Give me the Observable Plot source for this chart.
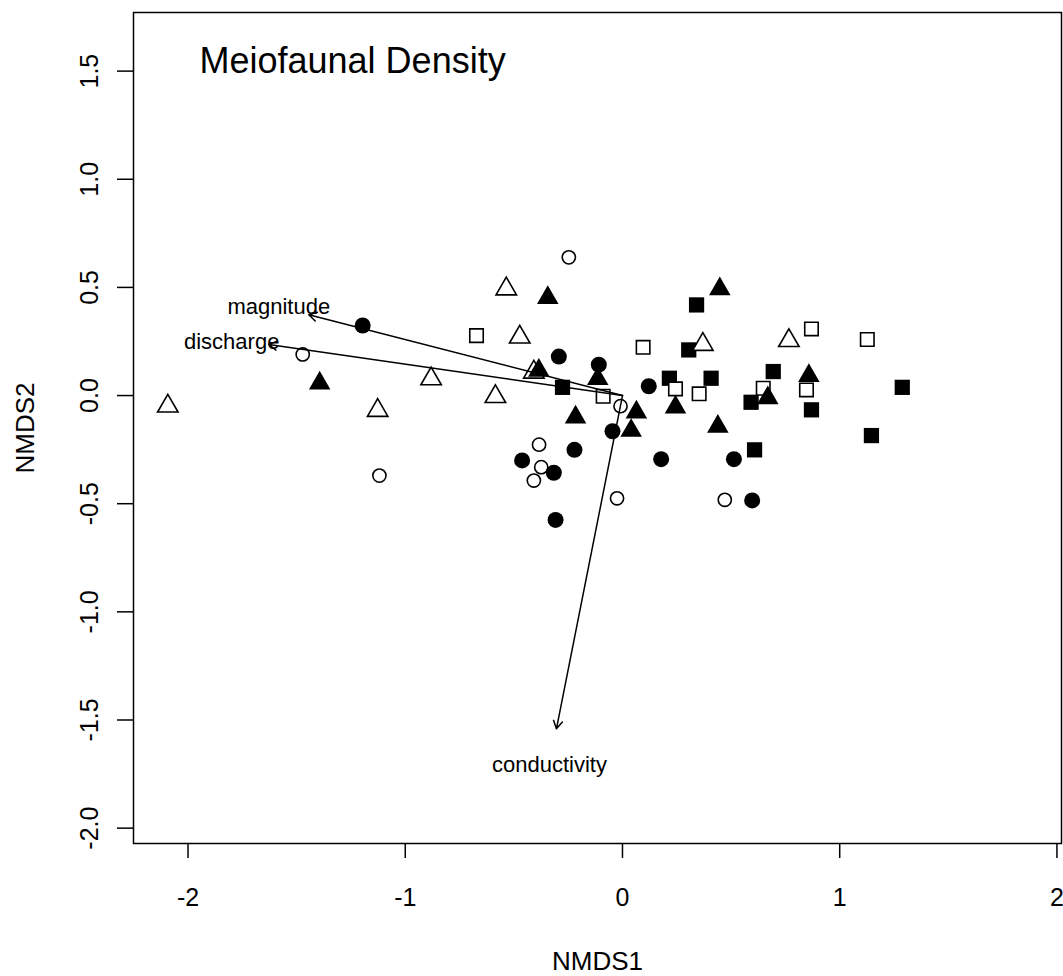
<!DOCTYPE html>
<html><head><meta charset="utf-8">
<script src="https://cdn.jsdelivr.net/npm/d3@7"></script>
<script src="https://cdn.jsdelivr.net/npm/@observablehq/plot@0.6"></script>
<style>body{margin:0;background:#fff} #chart svg{display:block}</style>
</head><body><div id="chart"></div>
<script>
// NMDS site scores by group (NMDS1, NMDS2)
const openTriangles = [[-2.093,-0.049],[-1.127,-0.069],[-0.881,0.077],[-0.585,-0.005],[-0.535,0.493],[-0.473,0.270],[-0.408,0.108],[0.370,0.236],[0.766,0.254]];
const filledTriangles = [[-1.394,0.057],[-0.344,0.452],[-0.385,0.116],[-0.114,0.077],[-0.216,-0.100],[0.064,-0.077],[0.040,-0.162],[0.244,-0.054],[0.448,0.493],[0.439,-0.143],[0.669,-0.011],[0.858,0.092]];
const openCircles = [[-1.472,0.190],[-1.119,-0.370],[-0.247,0.639],[-0.009,-0.049],[-0.384,-0.227],[-0.374,-0.331],[-0.408,-0.393],[-0.025,-0.475],[0.471,-0.482]];
const filledCircles = [[-1.196,0.324],[-0.293,0.180],[-0.109,0.143],[0.121,0.043],[-0.046,-0.165],[-0.221,-0.251],[-0.462,-0.300],[-0.316,-0.357],[-0.308,-0.575],[0.178,-0.294],[0.513,-0.294],[0.597,-0.485]];
const openSquares = [[-0.672,0.277],[-0.089,-0.003],[0.095,0.223],[0.244,0.031],[0.353,0.008],[0.648,0.034],[0.847,0.026],[0.870,0.308],[1.127,0.259]];
const filledSquares = [[-0.276,0.038],[0.341,0.419],[0.305,0.211],[0.216,0.080],[0.408,0.080],[0.694,0.111],[0.592,-0.031],[0.608,-0.251],[0.870,-0.066],[1.288,0.038],[1.146,-0.185]];

// environmental vectors
const vectorNames = ["magnitude","discharge","conductivity"];
const vectorX = [-1.444,-1.628,-0.304];
const vectorY = [0.374,0.236,-1.541];
const labelX = [-1.582,-1.799,-0.336];
const labelY = [0.408,0.250,-1.706];

const xTicks = [-2,-1,0,1,2];
const yTicks = [-2,-1.5,-1,-0.5,0,0.5,1,1.5];

const toPts = a => a.map(([x,y]) => ({x, y}));
const vectors = vectorNames.map((name,i) => ({name, x: vectorX[i], y: vectorY[i], lx: labelX[i], ly: labelY[i]}));
const font = "'Liberation Sans', Arial, Helvetica, sans-serif";

const plot = Plot.plot({
  width: 1063, height: 976,
  marginLeft: 133, marginRight: 2, marginTop: 12, marginBottom: 133,
  style: {fontFamily: font, background: "white", color: "black"},
  x: {domain: [-2.251, 2.021], label: null},
  y: {domain: [-2.071, 1.771], label: null},
  marks: [
    Plot.frame({stroke: "black", strokeWidth: 1.5}),
    Plot.axisX(xTicks, {anchor: "bottom", tickSize: 15, tickPadding: 30, fontSize: 25, strokeWidth: 1.5, tickFormat: d => String(d), label: null}),
    Plot.axisY(yTicks, {anchor: "left", tickSize: 16, tickPadding: 20, tickRotate: -90, textAnchor: "middle", lineAnchor: "bottom", fontSize: 25, strokeWidth: 1.5, tickFormat: d => d.toFixed(1), label: null}),
    Plot.dot(toPts(filledSquares), {x: "x", y: "y", symbol: "square", r: 8.6, fill: "black"}),
    Plot.dot(toPts(openSquares), {x: "x", y: "y", symbol: "square", r: 7.6, fill: "white", stroke: "black", strokeWidth: 1.6}),
    Plot.dot(toPts(openTriangles), {x: "x", y: "y", symbol: "triangle", r: 7.6, fill: "white", stroke: "black", strokeWidth: 1.6}),
    Plot.dot(toPts(filledTriangles), {x: "x", y: "y", symbol: "triangle", r: 8, fill: "black"}),
    Plot.dot(toPts(openCircles), {x: "x", y: "y", symbol: "circle", r: 6.6, fill: "white", stroke: "black", strokeWidth: 1.6}),
    Plot.dot(toPts(filledCircles), {x: "x", y: "y", symbol: "circle", r: 8, fill: "black"}),
    Plot.arrow(vectors, {x1: 0, y1: 0, x2: "x", y2: "y", stroke: "black", strokeWidth: 1.5, headLength: 9, headAngle: 60}),
    Plot.text(vectors, {x: "lx", y: "ly", text: "name", fontSize: 22, textAnchor: "middle", lineAnchor: "middle", fill: "black"}),
    Plot.text(["Meiofaunal Density"], {frameAnchor: "top-left", dx: 66, dy: 60, fontSize: 36, textAnchor: "start", lineAnchor: "bottom", fill: "black"}),
    Plot.text(["NMDS1"], {frameAnchor: "bottom", dy: 126, fontSize: 26, lineAnchor: "bottom", fill: "black"}),
    Plot.text(["NMDS2"], {frameAnchor: "left", dx: -100, rotate: -90, fontSize: 26, textAnchor: "middle", lineAnchor: "bottom", fill: "black"})
  ]
});
document.getElementById("chart").appendChild(plot);
</script>
</body></html>
